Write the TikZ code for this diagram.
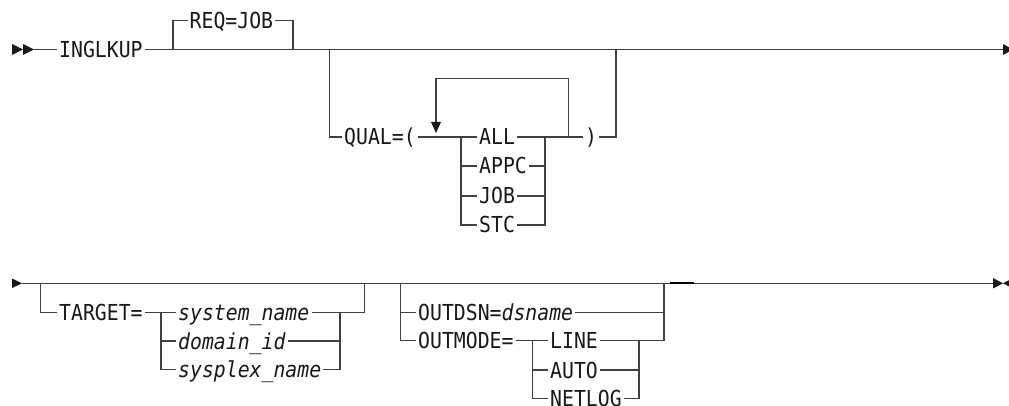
\documentclass[tikz,border=0pt]{standalone}
\usepackage{fontspec}
\newfontfamily\rrfont[FakeStretch=0.9]{DejaVu Sans Mono}
\usepackage{tikz}

\begin{document}
\begin{tikzpicture}[x=1pt,y=-1pt,
  rail/.style={line width=1.2pt,draw=black!75},
  kw/.style={anchor=west,inner xsep=2pt,inner ysep=0pt,text height=16pt,text depth=0pt,
    font=\rrfont\fontsize{22}{26}\selectfont,text=black!90},
  tip/.style={fill=black!90}]
\useasboundingbox (0,0) rectangle (1009,406);
\clip (0,0) rectangle (1009,406);

% first line
\fill[tip] (12,44) -- (23,49.5) -- (12,55) -- cycle;
\fill[tip] (23,44) -- (34,49.5) -- (23,55) -- cycle;
\coordinate (s1) at (34,49.5);
\coordinate (r1a) at (173,49.5);
\coordinate (r1b) at (293,49.5);
\coordinate (r1c) at (329.5,49.5);
\coordinate (r1d) at (616,49.5);
\coordinate (e1) at (1003,49.5);
\fill[tip] (1003,44) -- (1013,49.5) -- (1003,55) -- cycle;

\node[kw] (inglkup) at (57,49.5) {INGLKUP};
\node[kw] (reqjob) at (187.5,20.7) {REQ=JOB};
\node[kw] (qual) at (342,137) {QUAL=(};
\node[kw] (all) at (477,137) {ALL};
\node[kw] (appc) at (477,166) {APPC};
\node[kw] (jobq) at (477,196) {JOB};
\node[kw] (stc) at (477,225) {STC};
\node[kw] (rpar) at (583,137) {)};

\draw[rail] (s1) -- (inglkup.west);
\draw[rail] (inglkup.east) -- (e1);
\draw[rail] (r1a) |- (reqjob.west);
\draw[rail] (reqjob.east) -| (r1b);
\draw[rail] (r1c) |- (qual.west);
\draw[rail] (qual.east) -- (all.west);
\draw[rail] (all.east) -- (rpar.west);
\draw[rail] (rpar.east) -| (r1d);

% qualifier choices
\coordinate (ca) at (461,137);
\coordinate (cb) at (545,137);
\draw[rail] (ca) |- (appc.west);
\draw[rail] (ca) |- (jobq.west);
\draw[rail] (ca) |- (stc.west);
\draw[rail] (appc.east) -| (cb);
\draw[rail] (jobq.east) -| (cb);
\draw[rail] (stc.east) -| (cb);

% repeat loop
\coordinate (lb) at (568.7,137);
\coordinate (lt) at (568.7,78.7);
\coordinate (la) at (436,123);
\draw[rail] (lb) -- (lt) -| (la);
\fill[tip] (431,122) -- (441,122) -- (436,133) -- cycle;

% second line
\fill[tip] (12,278.5) -- (22,283.3) -- (12,288) -- cycle;
\coordinate (s2) at (22,283.3);
\coordinate (e2) at (993,283.3);
\draw[rail] (s2) -- (e2);
\draw[rail,line width=2.2pt,draw=black] (670,283.3) -- (694,283.3);
\fill[tip] (993,278) -- (1003,283.3) -- (993,288.5) -- cycle;
\fill[tip] (1013,278) -- (1003,283.3) -- (1013,288.5) -- cycle;

\node[kw] (target) at (57,312.3) {TARGET=};
\node[kw] (sysname) at (176,312.3) {\itshape system\_name};
\node[kw] (domid) at (176,341) {\itshape domain\_id};
\node[kw] (sysplex) at (176,369.5) {\itshape sysplex\_name};
\coordinate (t1) at (40.7,283.3);
\coordinate (t2) at (161,312.3);
\coordinate (t3) at (340,312.3);
\coordinate (t4) at (364.3,283.3);
\draw[rail] (t1) |- (target.west);
\draw[rail] (target.east) -- (sysname.west);
\draw[rail] (t2) |- (domid.west);
\draw[rail] (t2) |- (sysplex.west);
\draw[rail] (sysname.east) -| (t4);
\draw[rail] (domid.east) -| (t3);
\draw[rail] (sysplex.east) -| (t3);

\node[kw] (outdsn) at (416,312.3) {OUTDSN={\itshape dsname}};
\node[kw] (outmode) at (416,340.7) {OUTMODE=};
\node[kw] (lineopt) at (548,340.7) {LINE};
\node[kw] (auto) at (548,370) {AUTO};
\node[kw] (netlog) at (548,398.5) {NETLOG};
\coordinate (o1) at (400.7,283.3);
\coordinate (o4) at (664,283.3);
\coordinate (m1) at (532.7,340.7);
\coordinate (m2) at (639,340.7);
\draw[rail] (o1) |- (outdsn.west);
\draw[rail] (o1) |- (outmode.west);
\draw[rail] (outdsn.east) -| (o4);
\draw[rail] (outmode.east) -- (lineopt.west);
\draw[rail] (lineopt.east) -| (o4);
\draw[rail] (m1) |- (auto.west);
\draw[rail] (m1) |- (netlog.west);
\draw[rail] (auto.east) -| (m2);
\draw[rail] (netlog.east) -| (m2);
\end{tikzpicture}
\end{document}
